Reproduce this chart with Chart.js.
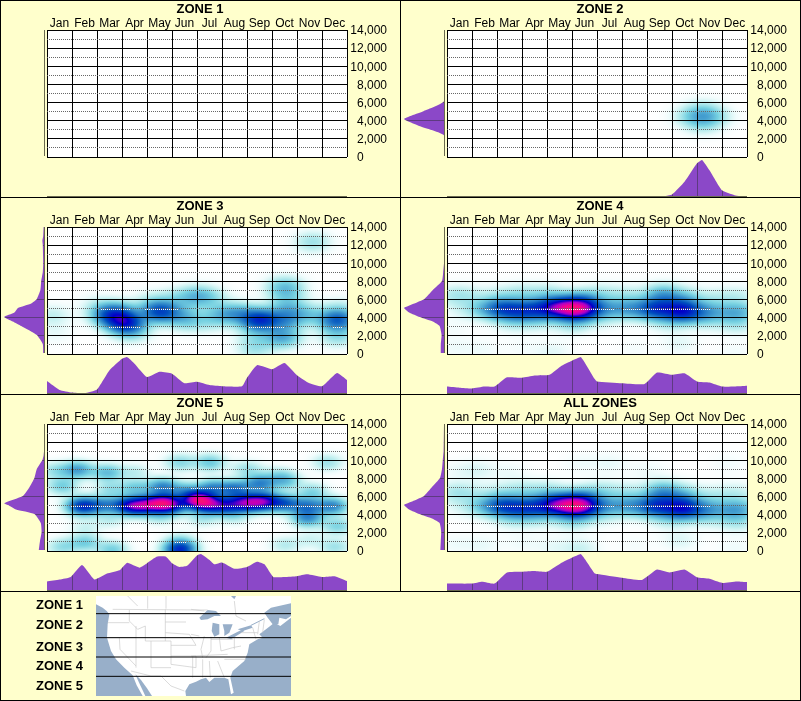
<!DOCTYPE html>
<html>
<head>
<meta charset="utf-8">
<title>Zones</title>
<script src="https://cdn.jsdelivr.net/npm/chart.js@4/dist/chart.umd.js"></script>
<style>
  html, body { margin: 0; padding: 0; background: #ffffcc; }
  #page { position: relative; width: 801px; height: 701px; overflow: hidden; background: #ffffcc; font-family: "Liberation Sans", Arial, sans-serif; }
  #page canvas { position: absolute; }
  .rule { position: absolute; background: #000; }
  .zoneName { position: absolute; left: 36px; font: bold 13px "Liberation Sans", Arial, sans-serif; color: #000; line-height: 16px; }
  #map { position: absolute; left: 96px; top: 596px; }
</style>
</head>
<body>
<div id="page"></div>
<script>
const months = ["Jan", "Feb", "Mar", "Apr", "May", "Jun", "Jul", "Aug", "Sep", "Oct", "Nov", "Dec"];
const zoneNames = ["ZONE 1", "ZONE 2", "ZONE 3", "ZONE 4", "ZONE 5"];

// heat clusters: [month position, feet, strength]
const zone1Heat = [];
const zone2Heat = [[10.2, 4500, 0.11], [9.7, 4500, 0.05], [10.7, 4500, 0.05], [10.2, 5400, 0.04], [10.2, 3500, 0.04]];
const zone3Heat = [
  [3.1, 3500, 0.42], [2.5, 4400, 0.3], [3.0, 4700, 0.1], [3.4, 2500, 0.08], [4.5, 4700, 0.36], [5.4, 4300, 0.1],
  [5.2, 6200, 0.06], [6.0, 6400, 0.14], [6.6, 6200, 0.05], [5.6, 3600, 0.06], [7.0, 4400, 0.12], [7.7, 4500, 0.14],
  [6.4, 3600, 0.05], [8.5, 3800, 0.4], [8.3, 2000, 0.06], [8.3, 600, 0.07], [9.4, 1900, 0.18], [9.5, 3800, 0.17],
  [9.6, 5000, 0.1], [9.5, 7400, 0.14], [9.6, 6200, 0.06], [10.4, 4400, 0.1], [10.6, 12400, 0.08], [11.6, 3800, 0.32],
  [11.6, 2000, 0.09], [11.7, 5200, 0.04], [0.2, 4300, 0.05], [0.3, 2400, 0.02], [2.0, 5500, 0.03], [4.2, 6000, 0.04]
];
const zone4Heat = [
  [1.4, 5000, 0.09], [2.2, 5000, 0.3], [3.0, 4800, 0.27], [3.8, 5000, 0.27], [4.5, 5200, 0.36], [5.3, 5000, 0.56],
  [4.8, 5000, 0.16], [5.4, 6000, 0.12], [6.1, 5000, 0.14], [7.0, 5000, 0.13], [7.7, 5000, 0.11], [8.4, 5000, 0.33],
  [8.6, 6600, 0.16], [9.4, 4700, 0.4], [9.3, 5700, 0.1], [10.3, 4600, 0.17], [11.3, 4600, 0.1], [11.8, 4700, 0.09],
  [0.3, 6500, 0.06], [1.0, 6500, 0.03], [2.1, 6500, 0.04], [3.0, 6700, 0.06], [4.0, 6700, 0.06], [6.2, 6700, 0.05],
  [7.2, 6500, 0.05], [9.6, 6400, 0.05], [10.7, 6200, 0.04], [11.6, 6500, 0.04], [0.5, 4900, 0.02],
  [2.6, 3500, 0.04], [3.6, 3600, 0.04], [5.0, 3400, 0.07], [6.2, 3700, 0.02], [8.8, 3500, 0.04], [11.6, 3300, 0.05], [10.5, 3400, 0.02],
  [1.4, 600, 0.015], [4.2, 300, 0.025], [9.3, 1200, 0.025], [0.3, 800, 0.015], [3.0, 800, 0.01], [0.2, 2900, 0.01], [7.5, 700, 0.01], [11.5, 300, 0.012]
];
const zone5Heat = [
  [1.4, 5000, 0.42], [2.2, 5100, 0.2], [3.0, 5100, 0.2], [3.5, 5000, 0.46], [4.1, 5200, 0.42], [4.7, 5300, 0.62], [5.1, 5000, 0.18],
  [6.0, 5700, 0.68], [6.5, 5200, 0.42], [7.1, 5000, 0.26], [7.6, 5300, 0.26], [8.1, 5400, 0.42], [8.7, 5500, 0.46], [9.5, 5300, 0.28], [10.4, 5000, 0.24], [11.4, 5000, 0.24],
  [4.6, 7100, 0.24], [5.5, 6700, 0.14], [6.6, 7000, 0.22], [7.5, 6900, 0.26], [8.5, 7500, 0.24], [9.5, 7800, 0.14], [3.5, 7000, 0.12], [2.5, 6900, 0.08], [0.6, 7200, 0.12], [10.6, 6600, 0.1],
  [1.2, 9000, 0.2], [2.4, 8700, 0.15], [0.3, 8900, 0.08], [3.5, 8800, 0.05], [5.3, 9800, 0.1], [6.5, 9800, 0.13], [8.0, 9100, 0.08], [11.2, 9800, 0.08], [9.2, 8500, 0.05],
  [10.4, 3700, 0.22], [11.6, 2800, 0.11], [1.5, 1000, 0.12], [0.6, 500, 0.09], [2.6, 200, 0.12], [5.3, 200, 0.42], [5.3, 1100, 0.07], [9.5, 700, 0.06], [11.5, 500, 0.08], [10.5, 1300, 0.04],
  [2.5, 3500, 0.05], [4.5, 3900, 0.07], [7.5, 3900, 0.06], [1.5, 2700, 0.04], [6.2, 3700, 0.07]
];
const allZonesHeat = [
  [1.4, 5000, 0.09], [2.2, 5000, 0.3], [3.0, 4800, 0.27], [3.8, 5000, 0.27], [4.5, 5200, 0.36], [5.3, 5000, 0.56],
  [4.8, 5000, 0.16], [5.4, 6000, 0.12], [6.1, 5000, 0.14], [7.0, 5000, 0.13], [7.7, 5000, 0.11], [8.4, 5000, 0.33],
  [8.6, 6600, 0.17], [9.4, 4700, 0.4], [9.3, 5700, 0.1], [10.3, 4600, 0.17], [11.3, 4600, 0.11], [11.8, 4700, 0.1],
  [0.3, 6500, 0.06], [1.0, 6500, 0.03], [2.1, 6500, 0.04], [3.0, 6700, 0.06], [4.0, 6700, 0.06], [6.2, 6700, 0.06],
  [7.2, 6500, 0.05], [9.6, 6400, 0.05], [10.7, 6200, 0.04], [11.6, 6500, 0.04], [0.5, 4900, 0.02],
  [2.6, 3500, 0.04], [3.6, 3600, 0.04], [5.0, 3400, 0.07], [6.2, 3700, 0.02], [8.8, 3500, 0.04], [11.6, 3300, 0.06], [10.5, 3400, 0.02],
  [1.2, 9000, 0.03], [0.3, 8900, 0.012], [5.3, 9700, 0.015], [6.5, 9700, 0.02], [8.0, 9000, 0.015], [11.2, 9700, 0.012], [2.5, 8800, 0.015],
  [1.4, 700, 0.02], [5.3, 300, 0.045], [4.2, 500, 0.02], [9.3, 1200, 0.03], [0.3, 800, 0.015], [3.0, 900, 0.015], [7.5, 700, 0.01], [11.5, 400, 0.015]
];

// bottom profiles: [month position, share of tallest]
const zone1Bottom = [[0, 0], [12, 0]];
const zone2Bottom = [[0, 0], [8.4, 0], [9, 0.07], [9.5, 0.41], [10, 0.91], [10.2, 1], [10.5, 0.72], [11, 0.18], [11.5, 0.05], [12, 0]];
const zone3Bottom = [
  [0, 0.35], [0.5, 0.11], [1, 0.04], [1.5, 0.02], [2, 0.12], [2.5, 0.64], [3, 0.95], [3.2, 1], [3.5, 0.82], [4, 0.46],
  [4.5, 0.6], [5, 0.55], [5.5, 0.29], [6, 0.33], [6.5, 0.24], [7, 0.21], [7.8, 0.21], [8, 0.44], [8.4, 0.78], [9, 0.67],
  [9.5, 0.84], [10, 0.51], [10.5, 0.29], [11, 0.21], [11.6, 0.57], [12, 0.38]
];
const zone4Bottom = [
  [0, 0.2], [0.5, 0.17], [1, 0.15], [1.5, 0.2], [1.9, 0.2], [2.4, 0.45], [3, 0.44], [3.5, 0.5], [4.1, 0.52], [4.6, 0.77],
  [5, 0.9], [5.35, 1], [5.9, 0.41], [6, 0.34], [7, 0.29], [7.9, 0.27], [8.4, 0.58], [9, 0.52], [9.5, 0.56], [10, 0.34],
  [10.5, 0.31], [11, 0.2], [11.5, 0.2], [12, 0.22]
];
const zone5Bottom = [
  [0, 0.26], [0.5, 0.31], [0.95, 0.38], [1.4, 0.7], [1.9, 0.31], [2.4, 0.47], [2.9, 0.56], [3.2, 0.76], [3.7, 0.63], [4, 0.75],
  [4.4, 0.93], [4.75, 0.93], [5, 0.75], [5.3, 0.65], [5.6, 0.68], [6, 0.96], [6.15, 1], [6.5, 0.84], [6.7, 0.72], [7, 0.77],
  [7.5, 0.6], [8, 0.65], [8.4, 0.79], [8.7, 0.72], [9.05, 0.38], [9.5, 0.38], [10, 0.4], [10.4, 0.45], [11, 0.38], [11.5, 0.4], [12, 0.27]
];
const allZonesBottom = [
  [0, 0.2], [1, 0.2], [1.4, 0.25], [1.9, 0.2], [2.4, 0.5], [3, 0.52], [3.5, 0.54], [4, 0.52], [4.6, 0.77], [5, 0.9], [5.35, 1],
  [5.9, 0.48], [6, 0.46], [7, 0.36], [7.8, 0.3], [8.4, 0.58], [8.9, 0.5], [9.5, 0.58], [10, 0.37], [10.5, 0.33], [11, 0.22], [11.6, 0.26], [12, 0.24]
];

// left profiles: [feet, share of tallest]
const zone1Left = [[0, 0], [14000, 0]];
const zone2Left = [[0, 0], [2300, 0], [3300, 0.6], [4100, 1], [5000, 0.5], [6100, 0], [14000, 0]];
const zone3Left = [
  [0, 0.02], [1000, 0.03], [2000, 0.18], [3000, 0.57], [3500, 0.78], [4000, 1], [4500, 0.74], [5000, 0.65], [5500, 0.32], [6000, 0.18],
  [7000, 0.09], [8000, 0.07], [9000, 0.03], [10000, 0.02], [12000, 0.03], [12500, 0.04], [13000, 0.02], [14000, 0.01]
];
const zone4Left = [
  [0, 0.08], [1000, 0.08], [2000, 0.06], [3000, 0.11], [3500, 0.28], [4000, 0.61], [4500, 0.87], [5000, 1], [5500, 0.74], [6000, 0.49],
  [7000, 0.28], [8000, 0.05], [9000, 0.02], [10000, 0], [14000, 0]
];
const zone5Left = [
  [0, 0.13], [1000, 0.1], [2000, 0.06], [3000, 0.08], [4000, 0.24], [4500, 0.7], [5000, 0.9], [5200, 1], [6000, 0.53], [7000, 0.36],
  [8000, 0.24], [9000, 0.18], [10000, 0.04], [10500, 0.01], [11000, 0], [14000, 0]
];
const allZonesLeft = [
  [0, 0.09], [1000, 0.08], [2000, 0.07], [3000, 0.11], [3500, 0.3], [4000, 0.62], [4500, 0.87], [5000, 1], [5500, 0.74], [6000, 0.5],
  [7000, 0.3], [8000, 0.1], [9000, 0.05], [10000, 0.03], [11000, 0.01], [14000, 0]
];

const panels = [
  { title: zoneNames[0], heat: zone1Heat, bottom: zone1Bottom, left: zone1Left },
  { title: zoneNames[1], heat: zone2Heat, bottom: zone2Bottom, left: zone2Left },
  { title: zoneNames[2], heat: zone3Heat, bottom: zone3Bottom, left: zone3Left },
  { title: zoneNames[3], heat: zone4Heat, bottom: zone4Bottom, left: zone4Left },
  // more reports here, so the patches stay tighter
  { title: zoneNames[4], heat: zone5Heat, bottom: zone5Bottom, left: zone5Left, spread: [0.42, 650] },
  { title: "ALL ZONES", heat: allZonesHeat, bottom: allZonesBottom, left: allZonesLeft }
];

const PURPLE = "#8b48c8";
const TICK_PURPLE = "#5d3a80";
const BASE_LINE = "#6a6a50";
const FONT = "'Liberation Sans', Arial, sans-serif";
const DEFAULT_SPREAD = [0.5, 800];

// white -> cyan -> blue -> magenta -> hot pink
const heatStops = [
  [0, 255, 255, 255], [0.015, 240, 252, 252], [0.05, 195, 240, 240], [0.12, 120, 210, 225], [0.22, 60, 150, 205],
  [0.36, 0, 80, 190], [0.54, 0, 0, 200], [0.68, 170, 0, 200], [0.82, 240, 0, 150], [1, 255, 30, 90]
];

function heatColor(v) {
  if (v >= 1) return heatStops[heatStops.length - 1].slice(1);
  for (let i = 1; i < heatStops.length; i++) {
    const a = heatStops[i - 1], b = heatStops[i];
    if (v <= b[0]) {
      const t = (v - a[0]) / (b[0] - a[0]);
      return [a[1] + (b[1] - a[1]) * t, a[2] + (b[2] - a[2]) * t, a[3] + (b[3] - a[3]) * t];
    }
  }
}

function heatAt(dataset, month, feet) {
  let sum = 0;
  for (const p of dataset.data) {
    const dx = (month - p.x) / dataset.spread[0];
    const dy = (feet - p.y) / dataset.spread[1];
    sum += p.w * Math.exp(-0.5 * (dx * dx + dy * dy));
  }
  return sum;
}

// paints the clusters behind the grid, through the chart's own scales
const heatLayer = {
  id: "heatLayer",
  beforeDraw(chart) {
    const { left, top, right, bottom } = chart.chartArea;
    const xs = chart.scales.x, ys = chart.scales.y;
    const dataset = chart.data.datasets[0];
    const w = Math.round(right - left) + 1, h = Math.round(bottom - top) + 1;
    const img = chart.ctx.createImageData(w, h);
    for (let j = 0; j < h; j++) {
      for (let i = 0; i < w; i++) {
        const c = heatColor(heatAt(dataset, xs.getValueForPixel(left + i), ys.getValueForPixel(top + j)));
        const k = (j * w + i) * 4;
        img.data[k] = c[0]; img.data[k + 1] = c[1]; img.data[k + 2] = c[2]; img.data[k + 3] = 255;
      }
    }
    chart.ctx.putImageData(img, Math.round(left), Math.round(top));
  },
  // the dotted lines turn white where the heat is dark
  afterDraw(chart) {
    const { left, right } = chart.chartArea;
    const xs = chart.scales.x, ys = chart.scales.y;
    const dataset = chart.data.datasets[0];
    const ctx = chart.ctx;
    ctx.save();
    ctx.fillStyle = "#fff";
    for (const tick of chart.scales.yDots.ticks) {
      const py = Math.round(ys.getPixelForValue(tick.value));
      for (let px = left; px <= right; px += 2) {
        if (heatAt(dataset, xs.getValueForPixel(px), tick.value) > 0.22) ctx.fillRect(px, py, 1, 1);
      }
    }
    ctx.restore();
  }
};

// darker tick lines that only show on top of the purple fill
function profileTicks(axisName, values) {
  return {
    id: "profileTicks",
    afterDatasetsDraw(chart) {
      const ctx = chart.ctx, area = chart.chartArea, scale = chart.scales[axisName];
      ctx.save();
      ctx.globalCompositeOperation = "source-atop";
      ctx.fillStyle = TICK_PURPLE;
      for (const v of values) {
        const p = Math.round(scale.getPixelForValue(v));
        if (axisName === "x") ctx.fillRect(p, area.top, 1, area.bottom - area.top);
        else ctx.fillRect(area.left, p, area.right - area.left, 1);
      }
      ctx.restore();
      ctx.fillStyle = BASE_LINE;
      if (axisName === "x") ctx.fillRect(area.left, area.bottom - 1, area.right - area.left, 1);
      else ctx.fillRect(area.right, area.top, 1, area.bottom - area.top);
    }
  };
}

function addCanvas(left, top, width, height) {
  const c = document.createElement("canvas");
  c.width = width;
  c.height = height;
  c.style.cssText = "left:" + left + "px;top:" + top + "px;width:" + width + "px;height:" + height + "px";
  document.getElementById("page").appendChild(c);
  return c.getContext("2d");
}

function drawHeat(panel, x0, y0) {
  new Chart(addCanvas(x0, y0, 400, 197), {
    type: "scatter",
    data: { datasets: [{ data: panel.heat.map(h => ({ x: h[0], y: h[1], w: h[2] })), spread: panel.spread || DEFAULT_SPREAD, pointRadius: 0 }] },
    plugins: [heatLayer],
    options: {
      responsive: false,
      animation: false,
      layout: { padding: { bottom: 40 } },
      plugins: {
        legend: { display: false },
        tooltip: { enabled: false },
        title: { display: true, text: panel.title, color: "#000", padding: { top: 2, bottom: 0 }, font: { family: FONT, size: 13, weight: "bold" } }
      },
      scales: {
        x: {
          type: "linear", position: "top", min: 0, max: 12,
          afterFit: s => { s.height = 12.4; },
          grid: { color: "#000", lineWidth: 1, drawTicks: false },
          border: { display: false },
          ticks: {
            stepSize: 1, autoSkip: false, maxRotation: 0, padding: -1, labelOffset: 12.5, color: "#000",
            font: { family: FONT, size: 12 },
            callback: v => months[v] || ""
          }
        },
        y: {
          type: "linear", position: "right", min: 0, max: 14000, weight: 0,
          afterFit: s => { s.width = 40; },
          grid: { color: "#000", lineWidth: 1, drawTicks: false },
          border: { display: false },
          ticks: {
            stepSize: 2000, padding: 3, color: "#000", crossAlign: "far", labelOffset: 1,
            font: { family: FONT, size: 12 },
            // the zero sits under the first digit of the other labels
            callback: v => v === 0 ? "0       " : v.toLocaleString("en-US")
          }
        },
        // dotted odd thousands; its width also keeps the labels off the panel edge
        yDots: {
          type: "linear", position: "right", min: 0, max: 14000, weight: 5,
          afterFit: s => { s.width = 13; },
          afterBuildTicks: s => { s.ticks = s.ticks.filter(t => t.value % 2000 === 1000); },
          grid: { color: "#666", lineWidth: 1, drawTicks: false },
          border: { display: false, dash: [1, 1] },
          ticks: { stepSize: 1000, display: false }
        },
        // room for the left profile
        yRoom: {
          type: "linear", position: "left", min: 0, max: 14000,
          afterFit: s => { s.width = 47; },
          grid: { display: false },
          border: { display: false },
          ticks: { display: false }
        }
      }
    }
  });
}

function drawBottom(panel, x0, y0) {
  new Chart(addCanvas(x0 + 47, y0 + 160, 300, 37), {
    type: "line",
    data: { datasets: [{ data: panel.bottom.map(p => ({ x: p[0], y: p[1] })), fill: "origin", backgroundColor: PURPLE, borderColor: PURPLE, borderWidth: 0, pointRadius: 0, tension: 0.15 }] },
    plugins: [profileTicks("x", [1, 2, 3, 4, 5, 6, 7, 8, 9, 10, 11])],
    options: {
      responsive: false,
      animation: false,
      plugins: { legend: { display: false }, tooltip: { enabled: false } },
      scales: {
        x: { type: "linear", min: 0, max: 12, display: false },
        y: { type: "linear", min: 0, max: 1, display: false }
      }
    }
  });
}

function drawLeft(panel, x0, y0) {
  new Chart(addCanvas(x0 + 4, y0 + 30, 41, 127), {
    type: "line",
    data: { datasets: [{ data: panel.left.map(p => ({ x: p[1], y: p[0] })), fill: "origin", backgroundColor: PURPLE, borderColor: PURPLE, borderWidth: 0, pointRadius: 0, tension: 0.15 }] },
    plugins: [profileTicks("y", [2000, 4000, 6000, 8000, 10000, 12000])],
    options: {
      responsive: false,
      animation: false,
      indexAxis: "y",
      layout: { padding: { right: 1, bottom: 1 } },
      plugins: { legend: { display: false }, tooltip: { enabled: false } },
      scales: {
        x: { type: "linear", min: 0, max: 1, reverse: true, display: false },
        y: { type: "linear", min: 0, max: 14000, display: false }
      }
    }
  });
}

panels.forEach((panel, i) => {
  const x0 = (i % 2) * 400, y0 = Math.floor(i / 2) * 197;
  drawHeat(panel, x0, y0);
  drawBottom(panel, x0, y0);
  drawLeft(panel, x0, y0);
});

// panel frame
const page = document.getElementById("page");
[[0, 0, 801, 1], [0, 197, 801, 1], [0, 394, 801, 1], [0, 591, 801, 1], [0, 700, 801, 1], [0, 0, 1, 701], [800, 0, 1, 701], [400, 0, 1, 591]].forEach(r => {
  const d = document.createElement("div");
  d.className = "rule";
  d.style.cssText = "left:" + r[0] + "px;top:" + r[1] + "px;width:" + r[2] + "px;height:" + r[3] + "px";
  page.appendChild(d);
});

// zone key
[597, 617, 639, 658, 678].forEach((top, i) => {
  const d = document.createElement("div");
  d.className = "zoneName";
  d.style.top = top + "px";
  d.textContent = zoneNames[i];
  page.appendChild(d);
});

// locator map, traced at 3x
page.insertAdjacentHTML("beforeend", `
<svg id="map" width="195" height="100" viewBox="0 0 585 300">
  <rect width="585" height="300" fill="#fff"/>
  <g fill="#98afc9">
    <path d="M0 25 L20 35 L32 45 L40 55 L35 85 L33 125 L45 165 L60 190 L85 215 L110 238 L122 268 L140 300 L0 300 Z"/>
    <path d="M118 235 L135 252 L152 275 L168 300 L148 300 L130 262 Z"/>
    <path d="M270 300 L268 285 L280 265 L300 257 L315 250 L330 245 L340 258 L355 245 L385 245 L397 250 L405 295 L413 290 L403 245 L410 225 L445 195 L455 170 L460 145 L485 130 L500 125 L490 115 L510 100 L535 80 L553 90 L585 65 L585 300 Z"/>
    <path d="M505 50 L525 35 L585 22 L585 60 L570 70 L550 65 L547 85 L530 85 L515 65 Z"/>
    <path d="M405 0 L420 0 L415 10 Z"/>
    <path d="M310 65 L335 42 L360 45 L375 60 L355 60 L335 70 L315 72 Z"/>
    <path d="M350 80 L370 85 L370 115 L355 122 L347 105 Z"/>
    <path d="M380 85 L410 85 L400 110 L385 120 L385 105 Z"/>
    <path d="M390 125 L440 100 L445 105 L405 130 Z"/>
    <path d="M425 100 L465 88 L470 95 L440 105 Z"/>
  </g>
  <path fill="none" stroke="#98afc9" stroke-width="3" d="M465 88 L505 68"/>
  <g fill="none" stroke="#c8c8c8" stroke-width="2">
    <path d="M95 0 L125 30 M155 0 L155 38 M210 0 L210 38 M50 40 L335 42 M285 40 L325 45 M415 15 L420 60 L450 75"/>
    <path d="M100 42 L100 75 L125 100 L148 90 M35 80 L100 80 M33 125 L120 125 M70 125 L72 160 L120 210 M120 90 L120 215"/>
    <path d="M148 90 L148 135 L225 135 M165 135 L165 215 L225 215 M225 135 L225 205 L300 215 M208 40 L208 135 M208 78 L270 78 M208 110 L280 115 L300 148 M225 148 L300 148 M225 180 L300 180 L300 215"/>
    <path d="M105 225 L165 240 L195 240 L225 270 L265 285"/>
    <path d="M285 115 L310 120 M325 120 L315 160 L320 185 M345 122 L345 165 L330 185 M370 125 L375 165 M345 130 L410 130 M285 180 L395 175 M290 180 L290 245 M320 190 L320 245 M340 195 L343 245 M365 195 L385 245 M385 190 L450 190 M415 125 L415 160 M375 165 L410 155 L435 150 M435 110 L485 110 M470 95 L480 130 M490 75 L485 115 M505 70 L500 110"/>
  </g>
  <path stroke="#000" stroke-width="3" d="M0 53 H585 M0 125 H585 M0 183 H585 M0 241 H585"/>
</svg>`);
</script>
</body>
</html>
